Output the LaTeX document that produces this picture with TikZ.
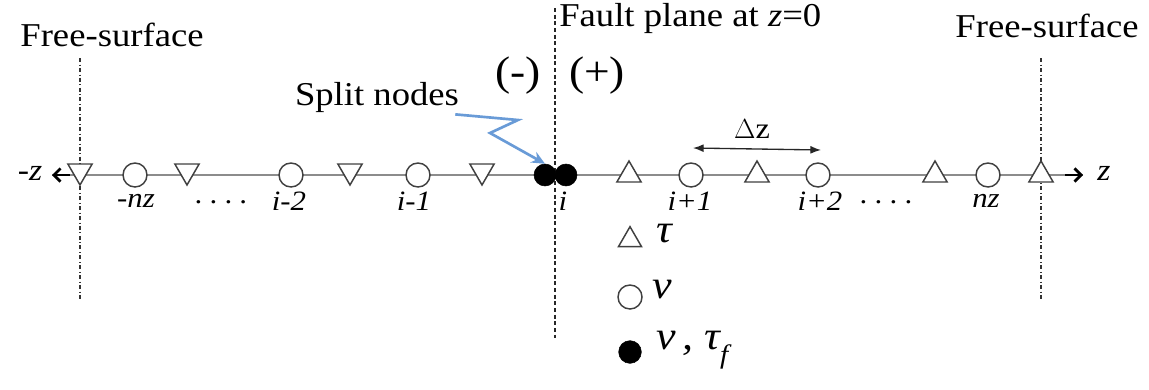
\documentclass[tikz,border=0pt]{standalone}
\usepackage{fontspec}
\setmainfont{Liberation Serif}[FakeStretch=1.1]
\usetikzlibrary{shapes.geometric,arrows.meta}
\definecolor{axisgray}{RGB}{140,140,140}
\definecolor{splitblue}{RGB}{105,155,215}
\newcommand{\fourdots}{·\hspace{3.5pt}·\hspace{3.5pt}·\hspace{3.5pt}·}
\begin{document}
\begin{tikzpicture}[x=0.75pt,y=-0.75pt,
  lab/.style={font=\fontsize{25}{30}\selectfont, inner sep=0},
  idx/.style={font=\fontsize{21}{24}\selectfont\itshape, inner sep=0},
  dotsl/.style={font=\fontsize{21}{24}\selectfont, inner sep=0, anchor=base},
  leg/.style={font=\fontsize{30}{34}\selectfont\itshape, inner sep=0, anchor=west},
  vnode/.style={circle,draw=black!75,fill=white,minimum size=18pt,inner sep=0,line width=1.1pt},
  fnode/.style={circle,draw=black,fill=black,minimum size=16.5pt,inner sep=0},
  tup/.style={regular polygon,regular polygon sides=3,draw=black!75,fill=white,minimum size=21pt,inner sep=0,line width=1.1pt},
  tdown/.style={tup,shape border rotate=180},
  surfline/.style={dash dot,line width=1.1pt,black!80},
  faultline/.style={dash pattern=on 3pt off 2pt,line width=1.1pt,black!85},
  axisline/.style={axisgray,line width=1.3pt},
  axtip/.style={line width=1.3pt,black}
]
\useasboundingbox (0,0) rectangle (1149,389);

% vertical lines
\coordinate (lsT) at (80,58);  \coordinate (lsB) at (80,300);
\coordinate (rsT) at (1041,58); \coordinate (rsB) at (1041,300);
\coordinate (fT) at (555,8);   \coordinate (fB) at (555,338);
\draw[surfline] (lsT) -- (lsB);
\draw[surfline] (rsT) -- (rsB);
\draw[faultline] (fT) -- (fB);

% axis
\coordinate (axL) at (52,175);
\coordinate (axR) at (1083,175);
\draw[axisline] (axL) -- (axR);
\draw[axtip,-{Straight Barb[length=5pt,width=10pt,line width=2pt]}] (70,175) -- (axL);
\draw[axtip,-{Straight Barb[length=5pt,width=10pt,line width=2pt]}] (1065,175) -- (axR);
\node[font=\fontsize{23}{26}\selectfont\itshape,inner sep=0] (mz) at (30,173) {-z};
\node[font=\fontsize{23}{26}\selectfont\itshape,inner sep=0] (pz) at (1104,173) {z};

% grid nodes
\node[tdown] (t1) at (80,171) {};
\node[vnode] (c1) at (135,175) {};
\node[tdown] (t2) at (187,171) {};
\node[vnode] (c2) at (291,175) {};
\node[tdown] (t3) at (350,171) {};
\node[vnode] (c3) at (418,175) {};
\node[tdown] (t4) at (482,171) {};
\node[fnode] (fL) at (545,175) {};
\node[fnode] (fR) at (566,175) {};
\node[tup] (u1) at (629,175) {};
\node[vnode] (c4) at (691,175) {};
\node[tup] (u2) at (757,175) {};
\node[vnode] (c5) at (818,175) {};
\node[tup] (u3) at (935,175) {};
\node[vnode] (c6) at (988,175) {};
\node[tup] (u4) at (1041,175) {};

% index labels
\node[idx] (l1) at (136,201) {-nz};
\node[dotsl] (d1) at (221,211) {\fourdots};
\node[idx] (l2) at (289,201) {i-2};
\node[idx] (l3) at (414,201) {i-1};
\node[idx] (l4) at (563,201) {i};
\node[idx] (l5) at (690,201) {i+1};
\node[idx] (l6) at (820,201) {i+2};
\node[dotsl] (d2) at (886,211) {\fourdots};
\node[idx] (l7) at (986,201) {nz};

% titles
\node[lab] (fsL) at (112,35) {Free-surface};
\node[lab] (fsR) at (1047,26) {Free-surface};
\node[lab,anchor=west] (fp) at (559,18) {Fault plane at \textit{z}=0};
\node[lab,font=\fontsize{31}{34}\selectfont] (minus) at (518,76) {(-)};
\node[lab,font=\fontsize{31}{34}\selectfont] (plus) at (597,76) {(+)};
\node[lab] (split) at (377,97) {Split nodes};

% split nodes arrow
\coordinate (z1) at (518,120);
\coordinate (z2) at (490,133);
\draw[splitblue,line width=2pt,-{Stealth[length=10pt,width=9pt]}]
  (split.south east) ++(-4,2) -- (z1) -- (z2) -- (fL.north);

% delta z
\coordinate (dzL) at (693,148);
\coordinate (dzR) at (821,150);
\draw[black!85,line width=1pt,{Latex[length=8pt,width=6pt]}-{Latex[length=8pt,width=6pt]}] (dzL) -- (dzR);
\node[font=\fontsize{22}{25}\selectfont,inner sep=0] (dz) at (752,129) {$\Delta$z};

% legend
\node[tup,minimum size=20pt] (gt) at (630,240) {};
\node[leg] (gtl) at (656,234) {τ};
\node[vnode] (gc) at (630,297) {};
\node[leg] (gcl) at (652,290) {ν};
\node[fnode,minimum size=17pt] (gf) at (630,352) {};
\node[leg] (gfl) at (656,350) {ν\,, τ\raisebox{-0.35em}{\fontsize{20}{22}\selectfont f}};
\end{tikzpicture}
\end{document}
